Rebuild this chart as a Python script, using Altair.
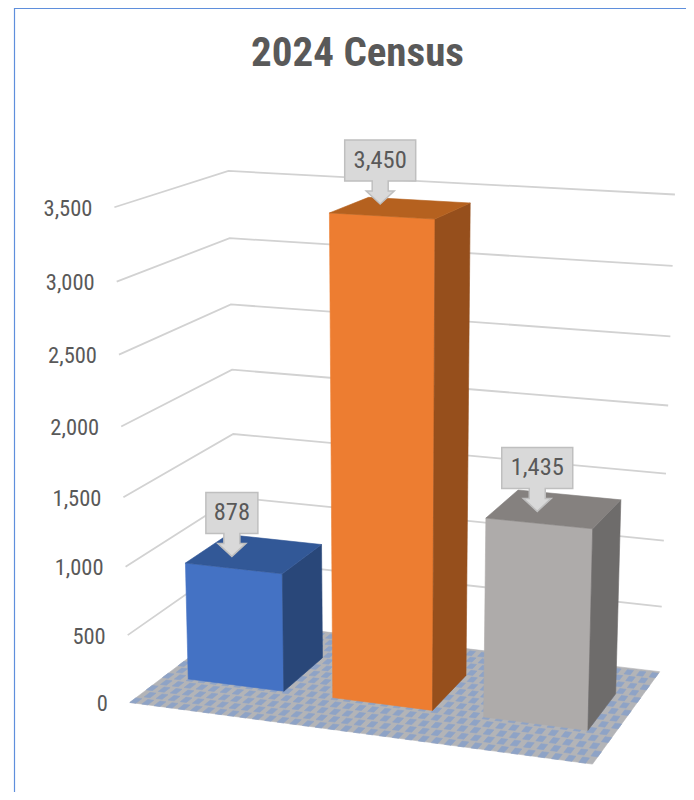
import altair as alt
import numpy as np
import pandas as pd

# ---- chart values ----
TITLE = "2024 Census"
categories = ["A", "B", "C"]
values = [878, 3450, 1435]
value_labels = ["878", "3,450", "1,435"]
ticks = [0, 500, 1000, 1500, 2000, 2500, 3000, 3500]
tick_labels = ["0", "500", "1,000", "1,500", "2,000", "2,500", "3,000", "3,500"]
front_colors = ["#4472C4", "#ED7D31", "#AEABAA"]
top_colors = ["#325897", "#B5611F", "#85817F"]
side_colors = ["#294779", "#964F1C", "#6E6C6B"]
FONT = "Roboto Condensed, Roboto"
TEXT = "#595959"

# view calibration: box corner (u, depth, value/3500) -> screen position
calib_world = [(0,0,0),(1,0,0),(1,1,0),(0,1,0),(0,0,1),(0,1,1),(1,1,1),
               (0,0,1500/3500),(0,1,1500/3500),(1,1,1500/3500)]
calib_px = [(131,702),(592,765),(660,671),(236,622),(114,207),(229,171),(675,195),
            (123,497),(233,434),(666,473)]
A, b = [], []
for (X, Y, Z), (x, y) in zip(calib_world, calib_px):
    A.append([X, Y, Z, 1, 0, 0, 0, 0, -x*X, -x*Y, -x*Z]); b.append(x)
    A.append([0, 0, 0, 0, X, Y, Z, 1, -y*X, -y*Y, -y*Z]); b.append(y)
P = np.append(np.linalg.lstsq(np.array(A, float), np.array(b, float), rcond=None)[0], 1).reshape(3, 4)

def view(u, d, v):
    q = P @ np.array([u, d, v / 3500, 1.0])
    return float(q[0] / q[2]), float(q[1] / q[2])

OFF = 8  # page margin
def poly(points, color):
    ring = [[round(x - OFF, 2), round(y - OFF, 2)] for x, y in points]
    ring.append(ring[0])
    return {"type": "Feature", "properties": {"color": color},
            "geometry": {"type": "Polygon", "coordinates": [ring]}}

def lines(paths, color="#d2d2d2"):
    return {"type": "Feature", "properties": {"color": color},
            "geometry": {"type": "MultiLineString",
                         "coordinates": [[[round(x - OFF, 2), round(y - OFF, 2)] for x, y in p] for p in paths]}}

proj = dict(type="identity", scale=1, translate=[0, 0])
W, H = 678, 784

def shapes(features):
    return alt.Chart(alt.Data(values=features)).mark_geoshape(strokeWidth=0.6).encode(
        fill=alt.Fill("properties.color:N", scale=None),
        stroke=alt.Stroke("properties.color:N", scale=None),
    ).project(**proj)

# floor with woven texture
floor = [poly([view(0,0,0), view(1,0,0), view(1,1,0), view(0,1,0)], "#b3b4b7")]
NU, ND = 36, 14
for j in range(ND):
    for i in range(NU):
        u0 = (i + (j % 2) * 0.5) / NU
        u1 = min(1, u0 + 0.5 / NU)
        d0, d1 = j / ND, (j + 0.72) / ND
        floor.append(poly([view(u0,d0,0), view(u1,d0,0), view(u1,d1,0), view(u0,d1,0)], "#8ea3c6"))

# walls' gridlines
grid = [lines([[view(0,0,t), view(0,1,t), view(1,1,t)] for t in ticks if t > 0])]
grid_layer = alt.Chart(alt.Data(values=grid)).mark_geoshape(filled=False, strokeWidth=1.8, stroke="#d2d2d2").project(**proj)

# bars
HALF = 0.111
D0, D1 = 0.305, 0.705
bar_faces, callouts, label_rows = [], [], []
for i, val in enumerate(values):
    c = (i + 0.5) / 3
    u0, u1 = c - HALF, c + HALF
    bar_faces.append(poly([view(u0,D0,0), view(u1,D0,0), view(u1,D0,val), view(u0,D0,val)], front_colors[i]))
    bar_faces.append(poly([view(u1,D0,0), view(u1,D1,0), view(u1,D1,val), view(u1,D0,val)], side_colors[i]))
    bar_faces.append(poly([view(u0,D0,val), view(u1,D0,val), view(u1,D1,val), view(u0,D1,val)], top_colors[i]))
    xa, ya = view(u0, D0, val)
    xb, yb = view(u1, D0, val)
    tx, ty = (xa + xb) / 2 - 2, (ya + yb) / 2 - 12
    hw = 26 if len(value_labels[i]) < 4 else 35.5
    outline = [(tx-hw, ty-64), (tx+hw, ty-64), (tx+hw, ty-23), (tx+8, ty-23), (tx+8, ty-13), (tx+14, ty-13),
               (tx, ty), (tx-14, ty-13), (tx-8, ty-13), (tx-8, ty-23), (tx-hw, ty-23)]
    callouts.append(poly(outline, "#d9d9d9"))
    label_rows.append({"x": tx, "y": ty - 43, "t": value_labels[i]})

bars_layer = shapes(bar_faces)
call_layer = alt.Chart(alt.Data(values=callouts)).mark_geoshape(fill="#d9d9d9", stroke="#bfbfbf", strokeWidth=1.5).project(**proj)

xs = alt.Scale(domain=[OFF, OFF + W], nice=False, zero=False)
ys = alt.Scale(domain=[OFF + H, OFF], nice=False, zero=False)
def X(f="x"): return alt.X(f + ":Q", scale=xs, axis=None)
def Y(f="y"): return alt.Y(f + ":Q", scale=ys, axis=None)

frame = alt.Chart(pd.DataFrame({"x": [14.5, 14.5, OFF + W], "y": [OFF + H, 8.5, 8.5]}).assign(o=[0, 1, 2])).mark_line(
    color="#5f8fdc", strokeWidth=1.2).encode(x=X(), y=Y(), order="o:Q")

tick_rows = []
for t, lab in zip(ticks, tick_labels):
    x, y = view(0, 0, t)
    tick_rows.append({"x": x - 22, "y": y + 1.5, "t": lab})
tick_text = alt.Chart(pd.DataFrame(tick_rows)).mark_text(
    font=FONT, fontSize=22.5, color=TEXT, align="right", baseline="middle").encode(x=X(), y=Y(), text="t:N")
call_text = alt.Chart(pd.DataFrame(label_rows)).mark_text(
    font=FONT, fontSize=24.5, color=TEXT, align="center", baseline="middle").encode(x=X(), y=Y(), text="t:N")
title = alt.Chart(pd.DataFrame([{"x": 357.5, "y": 54, "t": TITLE}])).mark_text(
    font=FONT, fontSize=41, fontWeight="bold", color=TEXT, align="center", baseline="middle").encode(x=X(), y=Y(), text="t:N")

chart = alt.layer(frame, shapes(floor), grid_layer, bars_layer, call_layer, tick_text, call_text, title).properties(
    width=W, height=H, padding=0, autosize=alt.AutoSizeParams(type="none")
).configure_view(stroke=None)
chart.save("out.html", embed_options={"renderer": "svg", "actions": False})
